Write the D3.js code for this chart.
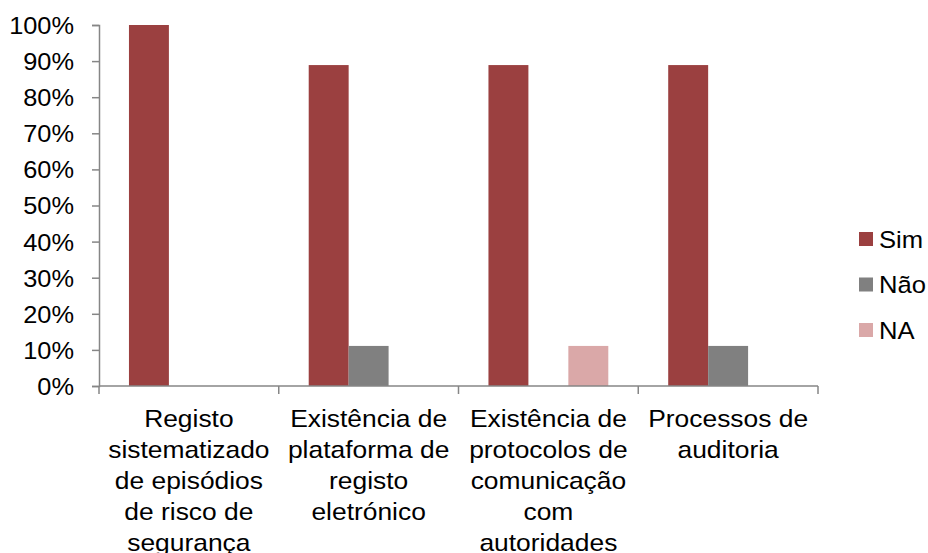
<!DOCTYPE html>
<html>
<head>
<meta charset="utf-8">
<script src="https://cdn.jsdelivr.net/npm/d3@7"></script>
<style>
  html, body { margin: 0; padding: 0; background: #fff; }
  svg { display: block; }
  text { font-family: "Liberation Sans", Arial, sans-serif; fill: #000; }
</style>
</head>
<body>
<svg id="chart" width="928" height="553"></svg>
<script>
// Categories (label lines) and series values in %
const categories = [
  ["Registo", "sistematizado", "de episódios", "de risco de", "segurança"],
  ["Existência de", "plataforma de", "registo", "eletrónico"],
  ["Existência de", "protocolos de", "comunicação", "com", "autoridades"],
  ["Processos de", "auditoria"]
];
const seriesNames = ["Sim", "Não", "NA"];
const sim = [100, 88.9, 88.9, 88.9];
const nao = [0, 11.1, 0, 11.1];
const na  = [0, 0, 11.1, 0];
const yTicks = [0, 10, 20, 30, 40, 50, 60, 70, 80, 90, 100];
const colors = ["#9b4040", "#808080", "#daa8a8"];

const seriesValues = [sim, nao, na];
const svg = d3.select("#chart");
const x0 = 99, x1 = 818, yTop = 25, yBot = 386;
const axisColor = "#868686";
const stretch = 1.09;

const catIdx = categories.map((d, i) => i);
const x = d3.scaleBand().domain(catIdx).range([x0, x1]).paddingInner(0).paddingOuter(0);
const xs = d3.scaleBand().domain(seriesNames).range([0, x.bandwidth()]).paddingInner(0).paddingOuter(0.75);
const y = d3.scaleLinear().domain([0, 100]).range([yBot, yTop]);

// bars
const groups = svg.append("g").selectAll("g")
  .data(catIdx).join("g")
  .attr("transform", i => `translate(${x(i)},0)`);
groups.selectAll("rect")
  .data(i => seriesNames.map((s, k) => ({ s, k, v: seriesValues[k][i] })))
  .join("rect")
  .attr("x", d => xs(d.s))
  .attr("width", xs.bandwidth())
  .attr("y", d => y(d.v))
  .attr("height", d => yBot - y(d.v))
  .attr("fill", d => colors[d.k]);

// y axis
const yAxis = svg.append("g")
  .attr("transform", `translate(${x0},0)`)
  .call(d3.axisLeft(y).tickValues(yTicks).tickFormat(d => d + "%").tickSize(7).tickPadding(18));
yAxis.select(".domain").attr("stroke", axisColor).attr("stroke-width", 1.5);
yAxis.selectAll(".tick line").attr("stroke", axisColor).attr("stroke-width", 1.5);
yAxis.selectAll(".tick text")
  .style("font-size", "23.5px")
  .style("font-family", "'Liberation Sans', Arial, sans-serif")
  .attr("fill", "#000")
  .attr("x", 0)
  .attr("dy", "0.36em")
  .attr("transform", `translate(-25,0) scale(1.08,1)`);

// x axis with boundary ticks between categories
const xAxisG = svg.append("g");
xAxisG.append("line")
  .attr("x1", x0).attr("x2", x1).attr("y1", yBot).attr("y2", yBot)
  .attr("stroke", axisColor).attr("stroke-width", 1.5);
const bounds = catIdx.map(i => x(i)).concat([x1]);
xAxisG.selectAll("line.tk").data(bounds).join("line").attr("class", "tk")
  .attr("x1", d => d).attr("x2", d => d)
  .attr("y1", yBot).attr("y2", yBot + 8)
  .attr("stroke", axisColor).attr("stroke-width", 1.5);

// category labels
const lineH = 31;
svg.append("g").selectAll("text")
  .data(catIdx).join("text")
  .attr("transform", i => `translate(${x(i) + x.bandwidth() / 2},427) scale(1.1,1)`)
  .attr("text-anchor", "middle")
  .style("font-size", "24px")
  .each(function (i) {
    d3.select(this).selectAll("tspan")
      .data(categories[i]).join("tspan")
      .attr("x", 0)
      .attr("dy", (d, k) => k === 0 ? 0 : lineH)
      .text(d => d);
  });

// legend
const legend = svg.append("g").attr("transform", "translate(859,232)");
const li = legend.selectAll("g").data(seriesNames).join("g")
  .attr("transform", (d, k) => `translate(0,${k * 45.5})`);
li.append("rect").attr("width", 14).attr("height", 14).attr("fill", (d, k) => colors[k]);
li.append("text")
  .attr("transform", `translate(20,15.5) scale(${stretch},1)`)
  .style("font-size", "23.5px").text(d => d);
</script>
</body>
</html>
